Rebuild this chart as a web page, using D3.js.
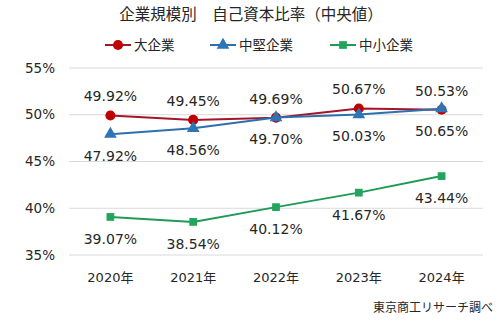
<!DOCTYPE html>
<html><head><meta charset="utf-8">
<script src="https://cdn.jsdelivr.net/npm/d3@7"></script>
<style>body{margin:0;background:#fff}svg{display:block}text{font-family:"DejaVu Sans","Noto Sans CJK JP",sans-serif;fill:#262626}</style>
</head><body><svg id="c" width="500" height="323"></svg>
<script>
const years = ["2020年","2021年","2022年","2023年","2024年"];
const seriesNames = ["大企業","中堅企業","中小企業"];
const large = [49.92,49.45,49.69,50.67,50.53];
const mid = [47.92,48.56,49.70,50.03,50.65];
const small = [39.07,38.54,40.12,41.67,43.44];
const yTicks = [35,40,45,50,55];
const title = "企業規模別　自己資本比率（中央値）";
const source = "東京商工リサーチ調べ";

const svg = d3.select("#c");
const x = d3.scaleBand().domain(years).range([69,483]);
const y = d3.scaleLinear().domain([35,55]).range([255,68]);
const cx = d => x(d) + x.bandwidth()/2;

svg.append("text").attr("x",251).attr("y",20).attr("text-anchor","middle").attr("font-size",15.5).text(title);

// grid
svg.append("g").selectAll("line").data(yTicks).join("line")
  .attr("x1",69).attr("x2",483).attr("y1",d=>y(d)).attr("y2",d=>y(d))
  .attr("stroke","#d9d9d9").attr("stroke-width",1);
svg.append("g").selectAll("text").data(yTicks).join("text")
  .attr("x",55).attr("y",d=>y(d)).attr("dy","0.35em").attr("text-anchor","end").attr("font-size",13.5)
  .text(d=>d+"%");
svg.append("g").selectAll("text").data(years).join("text")
  .attr("x",d=>cx(d)).attr("y",277).attr("dy","0.35em").attr("text-anchor","middle").attr("font-size",13)
  .text(d=>d);

const series = [
  {name:seriesNames[0], vals:large, line:"#A3162A", fill:"#C00000", shape:d3.symbolCircle, size:80, off:-19},
  {name:seriesNames[1], vals:mid, line:"#2E6FAE", fill:"#2E75B6", shape:d3.symbolTriangle, size:70, off:22},
  {name:seriesNames[2], vals:small, line:"#1F9A57", fill:"#22A55C", shape:d3.symbolSquare, size:60, off:22}
];
const lineGen = d3.line().x((d,i)=>cx(years[i])).y(d=>y(d));
series.forEach(s=>{
  const g = svg.append("g");
  g.append("path").datum(s.vals).attr("d",lineGen).attr("fill","none").attr("stroke",s.line).attr("stroke-width",2);
  g.selectAll("path.m").data(s.vals).join("path").attr("class","m")
    .attr("d",d3.symbol().type(s.shape).size(s.size))
    .attr("transform",(d,i)=>`translate(${cx(years[i])},${y(d)})`)
    .attr("fill",s.fill);
});
series.forEach(s=>{
  svg.append("g").selectAll("text").data(s.vals).join("text")
    .attr("x",(d,i)=>cx(years[i])).attr("y",d=>y(d)+s.off).attr("dy","0.35em")
    .attr("text-anchor","middle").attr("font-size",14).text(d=>d.toFixed(2)+"%");
});

// legend
const legX = [105,210,330];
series.forEach((s,i)=>{
  const g = svg.append("g").attr("transform",`translate(${legX[i]},45)`);
  g.append("line").attr("x1",0).attr("x2",26).attr("stroke",s.line).attr("stroke-width",2);
  g.append("path").attr("d",d3.symbol().type(s.shape).size(s.size)).attr("transform","translate(13,0)").attr("fill",s.fill);
  g.append("text").attr("x",29).attr("dy","0.35em").attr("font-size",13.5).text(s.name);
});

svg.append("text").attr("x",493).attr("y",308).attr("dy","0.35em").attr("text-anchor","end").attr("font-size",12).text(source);
</script></body></html>
